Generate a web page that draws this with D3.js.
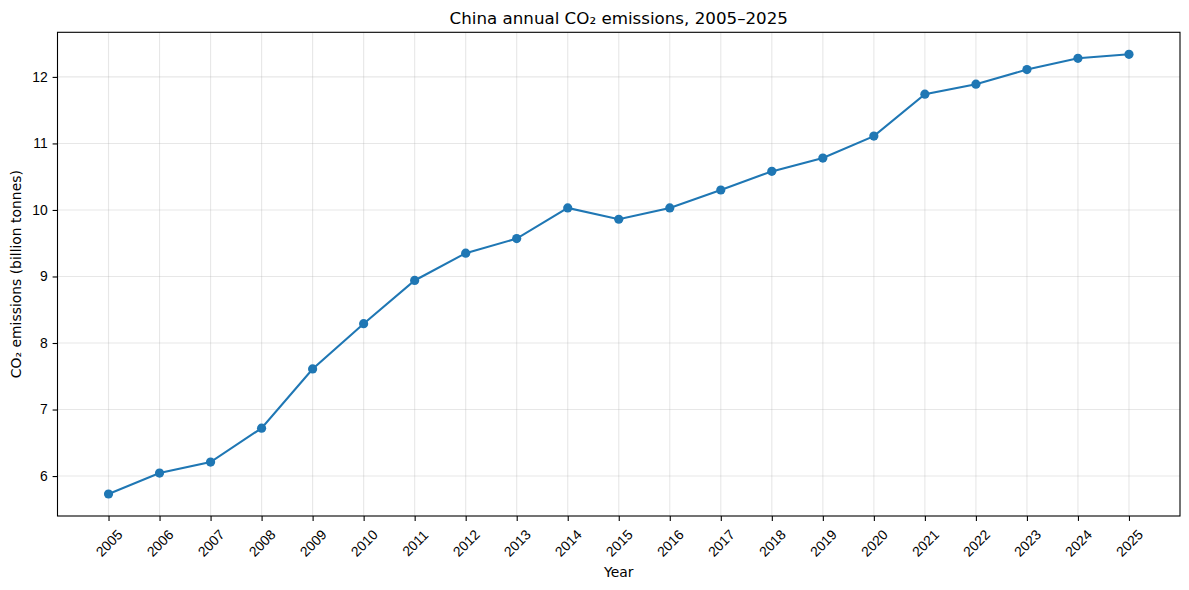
<!DOCTYPE html>
<html lang="en">
<head>
<meta charset="utf-8">
<title>China annual CO2 emissions</title>
<script src="https://d3js.org/d3.v7.min.js"></script>
<style>
  body { margin: 0; background: #fff; }
  svg { display: block; font-family: "DejaVu Sans", sans-serif; }
</style>
</head>
<body>
<script>
// data
var years = [2005, 2006, 2007, 2008, 2009, 2010, 2011, 2012, 2013, 2014, 2015,
             2016, 2017, 2018, 2019, 2020, 2021, 2022, 2023, 2024, 2025];
var emissions = [5.73, 6.045, 6.21, 6.72, 7.61, 8.29, 8.94, 9.35, 9.57, 10.03, 9.86,
                 10.03, 10.30, 10.58, 10.78, 11.11, 11.74, 11.89, 12.11, 12.28, 12.34];
var yTicks = [6, 7, 8, 9, 10, 11, 12];

var width = 1189, height = 590;
var plotLeft = 57.5, plotRight = 1180, plotTop = 32.3, plotBottom = 516;

var svg = d3.select("body").append("svg")
    .attr("width", width)
    .attr("height", height);

// matplotlib-style 5% margins
var x = d3.scaleLinear().domain([2004, 2026]).range([plotLeft, plotRight]);
var yMin = d3.min(emissions), yMax = d3.max(emissions), pad = (yMax - yMin) * 0.05;
var y = d3.scaleLinear().domain([yMin - pad, yMax + pad]).range([plotBottom, plotTop]);

// grid
var grid = svg.append("g").attr("stroke", "#b0b0b0").attr("stroke-opacity", 0.3).attr("stroke-width", 1.1);
grid.selectAll(".vx").data(years).enter().append("line")
    .attr("x1", d => x(d)).attr("x2", d => x(d))
    .attr("y1", plotTop).attr("y2", plotBottom);
grid.selectAll(".hy").data(yTicks).enter().append("line")
    .attr("y1", d => y(d)).attr("y2", d => y(d))
    .attr("x1", plotLeft).attr("x2", plotRight);

// axes
var xAxis = svg.append("g")
    .attr("transform", "translate(0," + plotBottom + ")")
    .call(d3.axisBottom(x).tickValues(years).tickFormat(d3.format("d")).tickSize(4.9).tickPadding(3.5));
xAxis.select(".domain").remove();
xAxis.selectAll("line").attr("stroke-width", 1.1);
xAxis.selectAll("text")
    .attr("font-size", "13.9px").attr("fill", "#000")
    .attr("text-anchor", "middle").attr("dy", null).attr("y", 0)
    .attr("dominant-baseline", "central")
    .attr("transform", "translate(0,27) rotate(-45)");

var yAxis = svg.append("g")
    .attr("transform", "translate(" + plotLeft + ",0)")
    .call(d3.axisLeft(y).tickValues(yTicks).tickSize(4.9).tickPadding(4.9));
yAxis.select(".domain").remove();
yAxis.selectAll("line").attr("stroke-width", 1.1);
yAxis.selectAll("text").attr("font-size", "13.9px").attr("fill", "#000");

// frame
svg.append("rect")
    .attr("x", plotLeft).attr("y", plotTop)
    .attr("width", plotRight - plotLeft).attr("height", plotBottom - plotTop)
    .attr("fill", "none").attr("stroke", "#000").attr("stroke-width", 1.1);

// line + markers
var pts = years.map((d, i) => [d, emissions[i]]);
svg.append("path")
    .datum(pts)
    .attr("fill", "none")
    .attr("stroke", "#1f77b4")
    .attr("stroke-width", 2.08)
    .attr("d", d3.line().x(d => x(d[0])).y(d => y(d[1])));
svg.selectAll(".dot").data(pts).enter().append("circle")
    .attr("cx", d => x(d[0])).attr("cy", d => y(d[1]))
    .attr("r", 4.6).attr("fill", "#1f77b4");

// labels
svg.append("text")
    .attr("x", (plotLeft + plotRight) / 2).attr("y", 24)
    .attr("text-anchor", "middle").attr("font-size", "16.7px")
    .text("China annual CO\u2082 emissions, 2005\u20132025");
svg.append("text")
    .attr("x", (plotLeft + plotRight) / 2).attr("y", 577)
    .attr("text-anchor", "middle").attr("font-size", "13.9px")
    .text("Year");
svg.append("text")
    .attr("transform", "translate(21," + (plotTop + plotBottom) / 2 + ") rotate(-90)")
    .attr("text-anchor", "middle").attr("font-size", "13.9px")
    .text("CO\u2082 emissions (billion tonnes)");
</script>
</body>
</html>
